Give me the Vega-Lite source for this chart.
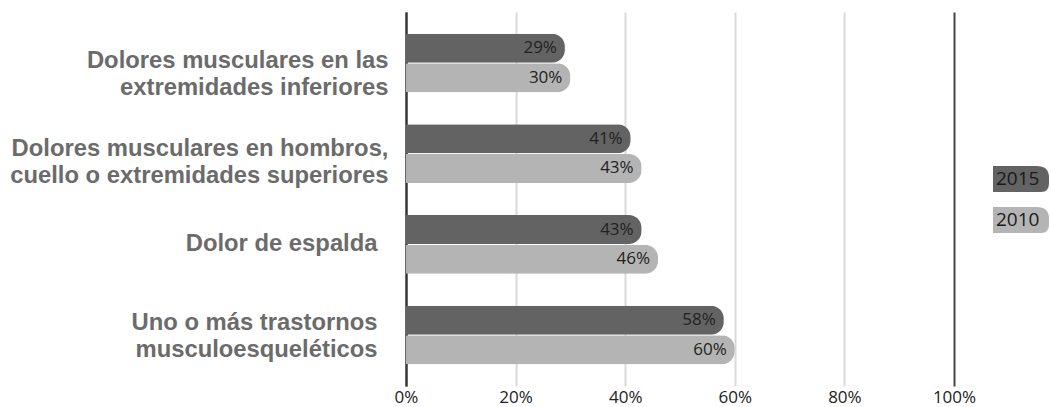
{
  "$schema": "https://vega.github.io/schema/vega-lite/v6.json",
  "width": 548,
  "height": 374,
  "autosize": {"type": "none"},
  "padding": {"left": 406, "top": 12, "right": 97, "bottom": 21},
  "background": "white",
  "data": {
    "values": [
      {"cat": "Dolores musculares en las|extremidades inferiores", "year": "2015", "value": 0.29},
      {"cat": "Dolores musculares en las|extremidades inferiores", "year": "2010", "value": 0.30},
      {"cat": "Dolores musculares en hombros,|cuello o extremidades superiores", "year": "2015", "value": 0.41},
      {"cat": "Dolores musculares en hombros,|cuello o extremidades superiores", "year": "2010", "value": 0.43},
      {"cat": "Dolor de espalda", "year": "2015", "value": 0.43},
      {"cat": "Dolor de espalda", "year": "2010", "value": 0.46},
      {"cat": "Uno o más trastornos|musculoesqueléticos", "year": "2015", "value": 0.58},
      {"cat": "Uno o más trastornos|musculoesqueléticos", "year": "2010", "value": 0.60}
    ]
  },
  "encoding": {
    "y": {
      "field": "cat",
      "type": "nominal",
      "sort": null,
      "title": null,
      "scale": {"paddingInner": 0.353, "paddingOuter": 0.239},
      "axis": {
        "labelExpr": "split(datum.label, '|')",
        "labelFont": "Liberation Sans",
        "labelFontSize": 23.8,
        "labelFontWeight": "bold",
        "labelColor": "#6b6b6b",
        "labelLineHeight": 27,
        "labelLimit": 600,
        "labelPadding": {
          "condition": [
            {"test": "indexof(datum.value, 'espalda') >= 0", "value": 29},
            {"test": "indexof(datum.value, 'trastornos') >= 0", "value": 29}
          ],
          "value": 18
        },
        "labelOffset": {
          "condition": [
            {"test": "indexof(datum.value, 'inferiores') >= 0", "value": -2},
            {"test": "indexof(datum.value, 'superiores') >= 0", "value": -5},
            {"test": "indexof(datum.value, 'trastornos') >= 0", "value": -12}
          ],
          "value": 0
        },
        "ticks": false,
        "domain": true,
        "domainColor": "#333333",
        "domainWidth": 2,
        "grid": false
      }
    },
    "yOffset": {"field": "year", "type": "nominal", "sort": ["2015", "2010"], "scale": {"paddingInner": 0.02}},
    "x": {
      "field": "value",
      "type": "quantitative",
      "title": null,
      "scale": {"domain": [0, 1], "nice": false},
      "axis": {
        "values": [0, 0.2, 0.4, 0.6, 0.8, 1],
        "format": ".0%",
        "labelFont": "Open Sans",
        "labelFontSize": 17,
        "labelColor": "#222222",
        "labelPadding": 3,
        "labelFlush": false,
        "ticks": false,
        "domain": false,
        "grid": true,
        "gridWidth": 2,
        "gridColor": {"condition": {"test": "datum.value >= 1 || datum.value <= 0", "value": "#444444"}, "value": "#dadada"}
      }
    }
  },
  "layer": [
    {
      "mark": {"type": "bar", "cornerRadiusEnd": 13},
      "encoding": {
        "color": {
          "field": "year",
          "type": "nominal",
          "scale": {"domain": ["2015", "2010"], "range": ["#636363", "#b4b4b4"]},
          "legend": {
            "title": null,
            "orient": "none",
            "legendX": 587,
            "legendY": 139,
            "symbolType": "M-1,-0.46 L0.55,-0.46 Q1,-0.46 1,-0.05 L1,0.16 Q1,0.46 0.72,0.46 L-1,0.46 Z",
            "symbolSize": 3136,
            "symbolStrokeWidth": 0,
            "labelOffset": -53,
            "labelFont": "Open Sans",
            "labelFontSize": 19,
            "labelColor": "#1a1a1a",
            "rowPadding": -7
          }
        }
      }
    },
    {
      "mark": {"type": "text", "align": "right", "dx": -8, "font": "Open Sans", "fontSize": 17, "color": "#222222"},
      "encoding": {
        "text": {"field": "value", "type": "quantitative", "format": ".0%"}
      }
    }
  ],
  "config": {"view": {"stroke": null}}
}
